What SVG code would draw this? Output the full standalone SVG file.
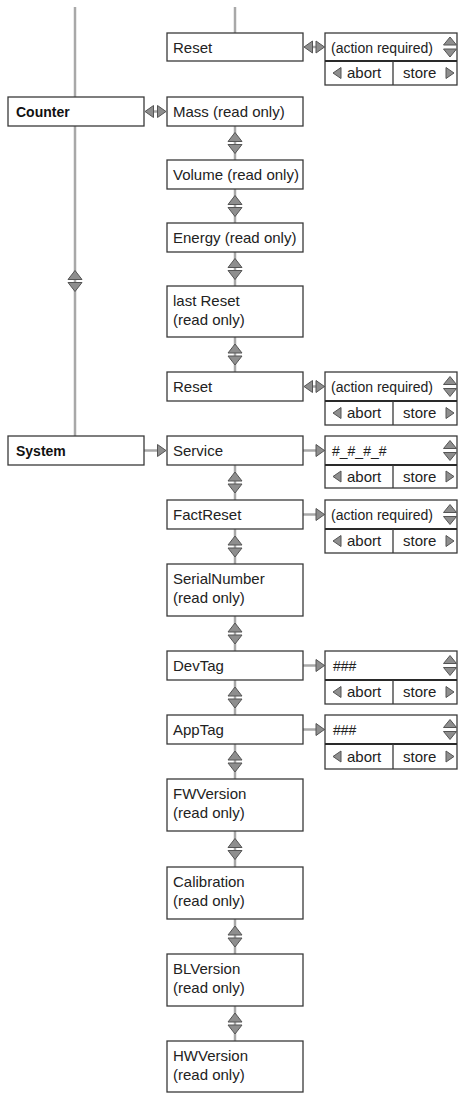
<svg xmlns="http://www.w3.org/2000/svg" xmlns:xlink="http://www.w3.org/1999/xlink" width="459" height="1093" viewBox="0 0 459 1093">
<style>
.box{fill:#fff;stroke:#3a3a3a;stroke-width:1.3}
.div{stroke:#2a2a2a;stroke-width:2}
.sep{stroke:#3a3a3a;stroke-width:1.3}
.conn{stroke:#a8a8a8;stroke-width:2.5;fill:none}
.tri{fill:#8e8e8e;stroke:#555;stroke-width:1;stroke-linejoin:round}
.t{font-family:"Liberation Sans",Arial,sans-serif;font-size:15px;fill:#222}
.s{font-family:"Liberation Sans",Arial,sans-serif;font-size:14px;fill:#222}
.b{font-family:"Liberation Sans",Arial,sans-serif;font-size:14px;font-weight:bold;fill:#111}
</style>
<defs>
<g id="updown"><path class="tri" d="M0,-10.5 L7,-1.5 L-7,-1.5 Z"/><path class="tri" d="M-7,1.5 L7,1.5 L0,10.5 Z"/></g>
<g id="spin"><path class="tri" d="M0,-10 L6.5,-2 L-6.5,-2 Z"/><path class="tri" d="M-6.5,2 L6.5,2 L0,10 Z"/></g>
<path id="tr" class="tri" d="M0,-6 L8.5,0 L0,6 Z"/>
<path id="tl" class="tri" d="M0,0 L8.5,-6 L8.5,6 Z"/>
<path id="sl" class="tri" d="M0,0 L8,-5.5 L8,5.5 Z"/>
<path id="sr" class="tri" d="M0,-5.5 L8,0 L0,5.5 Z"/>
</defs>

<g id="connectors">
<line class="conn" x1="75" y1="7" x2="75" y2="97"/>
<line class="conn" x1="75" y1="126" x2="75" y2="436"/>
<use xlink:href="#updown" x="75" y="281"/>
<line class="conn" x1="235" y1="7" x2="235" y2="33"/>
<line class="conn" x1="235" y1="126" x2="235" y2="160"/><use xlink:href="#updown" x="235" y="143"/>
<line class="conn" x1="235" y1="189" x2="235" y2="223"/><use xlink:href="#updown" x="235" y="206"/>
<line class="conn" x1="235" y1="252" x2="235" y2="286"/><use xlink:href="#updown" x="235" y="269"/>
<line class="conn" x1="235" y1="337" x2="235" y2="372"/><use xlink:href="#updown" x="235" y="354.5"/>
<line class="conn" x1="235" y1="465" x2="235" y2="500"/><use xlink:href="#updown" x="235" y="482.5"/>
<line class="conn" x1="235" y1="529" x2="235" y2="564"/><use xlink:href="#updown" x="235" y="546.5"/>
<line class="conn" x1="235" y1="616" x2="235" y2="651"/><use xlink:href="#updown" x="235" y="633.5"/>
<line class="conn" x1="235" y1="680" x2="235" y2="715"/><use xlink:href="#updown" x="235" y="697.5"/>
<line class="conn" x1="235" y1="744" x2="235" y2="779"/><use xlink:href="#updown" x="235" y="761.5"/>
<line class="conn" x1="235" y1="831" x2="235" y2="867"/><use xlink:href="#updown" x="235" y="849"/>
<line class="conn" x1="235" y1="919" x2="235" y2="954"/><use xlink:href="#updown" x="235" y="936.5"/>
<line class="conn" x1="235" y1="1006" x2="235" y2="1041"/><use xlink:href="#updown" x="235" y="1023.5"/>
<line class="conn" x1="153" y1="111.5" x2="158" y2="111.5"/><use xlink:href="#tl" x="145" y="111.5"/><use xlink:href="#tr" x="157.5" y="111.5"/>
<line class="conn" x1="312" y1="47" x2="317" y2="47"/><use xlink:href="#tl" x="304" y="47"/><use xlink:href="#tr" x="316" y="47"/>
<line class="conn" x1="312" y1="386.5" x2="317" y2="386.5"/><use xlink:href="#tl" x="304" y="386.5"/><use xlink:href="#tr" x="316" y="386.5"/>
<line class="conn" x1="144" y1="450.5" x2="158" y2="450.5"/><use xlink:href="#tr" x="157.5" y="450.5"/>
<line class="conn" x1="303" y1="450.5" x2="317" y2="450.5"/><use xlink:href="#tr" x="316" y="450.5"/>
<line class="conn" x1="303" y1="514.5" x2="317" y2="514.5"/><use xlink:href="#tr" x="316" y="514.5"/>
<line class="conn" x1="303" y1="665.5" x2="317" y2="665.5"/><use xlink:href="#tr" x="316" y="665.5"/>
<line class="conn" x1="303" y1="729.5" x2="317" y2="729.5"/><use xlink:href="#tr" x="316" y="729.5"/>
</g>

<g id="node-counter"><rect class="box" x="8" y="97" width="136" height="29"/><text class="b" x="16" y="117">Counter</text></g>
<g id="node-system"><rect class="box" x="8" y="436" width="136" height="29"/><text class="b" x="16" y="456">System</text></g>

<g id="node-reset-top"><rect class="box" x="167" y="33" width="136" height="28"/><text class="t" x="173" y="53">Reset</text></g>
<g id="node-mass"><rect class="box" x="167" y="97" width="136" height="29"/><text class="t" x="173" y="117">Mass (read only)</text></g>
<g id="node-volume"><rect class="box" x="167" y="160" width="136" height="29"/><text class="t" x="173" y="180">Volume (read only)</text></g>
<g id="node-energy"><rect class="box" x="167" y="223" width="136" height="29"/><text class="t" x="173" y="243">Energy (read only)</text></g>
<g id="node-lastreset"><rect class="box" x="167" y="286" width="136" height="51"/><text class="t" x="173" y="306">last Reset</text><text class="t" x="173" y="325">(read only)</text></g>
<g id="node-reset"><rect class="box" x="167" y="372" width="136" height="29"/><text class="t" x="173" y="392">Reset</text></g>
<g id="node-service"><rect class="box" x="167" y="436" width="136" height="29"/><text class="t" x="173" y="456">Service</text></g>
<g id="node-factreset"><rect class="box" x="167" y="500" width="136" height="29"/><text class="t" x="173" y="520">FactReset</text></g>
<g id="node-serial"><rect class="box" x="167" y="564" width="136" height="52"/><text class="t" x="173" y="584">SerialNumber</text><text class="t" x="173" y="603">(read only)</text></g>
<g id="node-devtag"><rect class="box" x="167" y="651" width="136" height="29"/><text class="t" x="173" y="671">DevTag</text></g>
<g id="node-apptag"><rect class="box" x="167" y="715" width="136" height="29"/><text class="t" x="173" y="735">AppTag</text></g>
<g id="node-fwversion"><rect class="box" x="167" y="779" width="136" height="52"/><text class="t" x="173" y="799">FWVersion</text><text class="t" x="173" y="818">(read only)</text></g>
<g id="node-calibration"><rect class="box" x="167" y="867" width="136" height="52"/><text class="t" x="173" y="887">Calibration</text><text class="t" x="173" y="906">(read only)</text></g>
<g id="node-blversion"><rect class="box" x="167" y="954" width="136" height="52"/><text class="t" x="173" y="974">BLVersion</text><text class="t" x="173" y="993">(read only)</text></g>
<g id="node-hwversion"><rect class="box" x="167" y="1041" width="136" height="51"/><text class="t" x="173" y="1061">HWVersion</text><text class="t" x="173" y="1080">(read only)</text></g>

<g id="edit-reset-top"><rect class="box" x="325" y="33" width="132" height="52"/><line class="div" x1="325" y1="61" x2="457" y2="61"/><line class="sep" x1="393" y1="61" x2="393" y2="85"/>
<text class="s" x="331" y="53">(action required)</text><use xlink:href="#spin" x="450" y="47"/>
<use xlink:href="#sl" x="333" y="73"/><text class="t" x="347" y="78">abort</text><text class="t" x="403" y="78">store</text><use xlink:href="#sr" x="446" y="73"/></g>

<g id="edit-reset"><rect class="box" x="325" y="372" width="132" height="53"/><line class="div" x1="325" y1="401" x2="457" y2="401"/><line class="sep" x1="393" y1="401" x2="393" y2="425"/>
<text class="s" x="331" y="392">(action required)</text><use xlink:href="#spin" x="450" y="386.5"/>
<use xlink:href="#sl" x="333" y="413"/><text class="t" x="347" y="418">abort</text><text class="t" x="403" y="418">store</text><use xlink:href="#sr" x="446" y="413"/></g>

<g id="edit-service"><rect class="box" x="325" y="436" width="132" height="52"/><line class="div" x1="325" y1="465" x2="457" y2="465"/><line class="sep" x1="393" y1="465" x2="393" y2="488"/>
<text class="s" x="332" y="456">#_#_#_#</text><use xlink:href="#spin" x="450" y="450.5"/>
<use xlink:href="#sl" x="333" y="476.5"/><text class="t" x="347" y="482">abort</text><text class="t" x="403" y="482">store</text><use xlink:href="#sr" x="446" y="476.5"/></g>

<g id="edit-factreset"><rect class="box" x="325" y="500" width="132" height="53"/><line class="div" x1="325" y1="529" x2="457" y2="529"/><line class="sep" x1="393" y1="529" x2="393" y2="553"/>
<text class="s" x="331" y="520">(action required)</text><use xlink:href="#spin" x="450" y="514.5"/>
<use xlink:href="#sl" x="333" y="541"/><text class="t" x="347" y="546">abort</text><text class="t" x="403" y="546">store</text><use xlink:href="#sr" x="446" y="541"/></g>

<g id="edit-devtag"><rect class="box" x="325" y="651" width="132" height="53"/><line class="div" x1="325" y1="680" x2="457" y2="680"/><line class="sep" x1="393" y1="680" x2="393" y2="704"/>
<text class="s" x="333" y="671">###</text><use xlink:href="#spin" x="450" y="665.5"/>
<use xlink:href="#sl" x="333" y="692"/><text class="t" x="347" y="697">abort</text><text class="t" x="403" y="697">store</text><use xlink:href="#sr" x="446" y="692"/></g>

<g id="edit-apptag"><rect class="box" x="325" y="715" width="132" height="54"/><line class="div" x1="325" y1="744" x2="457" y2="744"/><line class="sep" x1="393" y1="744" x2="393" y2="769"/>
<text class="s" x="333" y="735">###</text><use xlink:href="#spin" x="450" y="729.5"/>
<use xlink:href="#sl" x="333" y="756.5"/><text class="t" x="347" y="762">abort</text><text class="t" x="403" y="762">store</text><use xlink:href="#sr" x="446" y="756.5"/></g>
</svg>
